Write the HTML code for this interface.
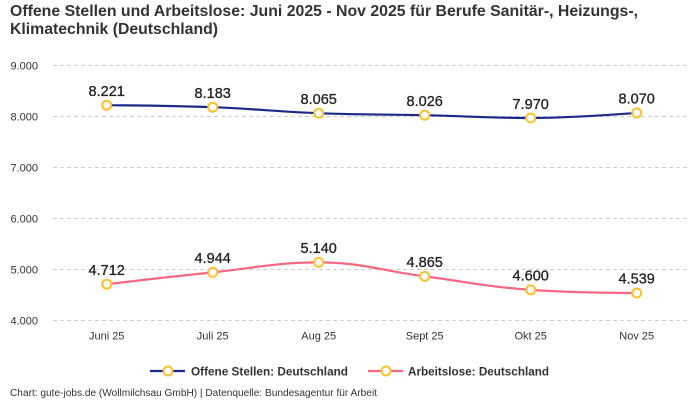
<!DOCTYPE html>
<html>
<head>
<meta charset="utf-8">
<style>
html,body{margin:0;padding:0;background:#fff;}
svg{display:block;font-family:"Liberation Sans",sans-serif;}
</style>
</head>
<body>
<svg width="700" height="400" viewBox="0 0 700 400" xmlns="http://www.w3.org/2000/svg">
  <rect width="700" height="400" fill="#fff"/>
  <!-- Title -->
  <text x="10" y="16" font-size="16" font-weight="bold" fill="#333" textLength="628" lengthAdjust="spacingAndGlyphs">Offene Stellen und Arbeitslose: Juni 2025 - Nov 2025 für Berufe Sanitär-, Heizungs-,</text>
  <text x="10" y="34" font-size="16" font-weight="bold" fill="#333" textLength="208" lengthAdjust="spacingAndGlyphs">Klimatechnik (Deutschland)</text>

  <!-- Grid -->
  <g stroke="#cccccc" stroke-width="1" stroke-dasharray="4,3">
    <line x1="53" y1="65.5" x2="689" y2="65.5"/>
    <line x1="53" y1="116.5" x2="689" y2="116.5"/>
    <line x1="53" y1="167.5" x2="689" y2="167.5"/>
    <line x1="53" y1="218.5" x2="689" y2="218.5"/>
    <line x1="53" y1="269.5" x2="689" y2="269.5"/>
    <line x1="53" y1="320.5" x2="689" y2="320.5"/>
  </g>

  <!-- Y labels -->
  <g font-size="11" fill="#333" text-anchor="end">
    <text x="38" y="69.5">9.000</text>
    <text x="38" y="120.5">8.000</text>
    <text x="38" y="171.5">7.000</text>
    <text x="38" y="222.5">6.000</text>
    <text x="38" y="273.5">5.000</text>
    <text x="38" y="324.5">4.000</text>
  </g>

  <!-- X labels -->
  <g font-size="11" fill="#333" text-anchor="middle">
    <text x="106.7" y="339.5">Juni 25</text>
    <text x="212.7" y="339.5">Juli 25</text>
    <text x="318.7" y="339.5">Aug 25</text>
    <text x="424.7" y="339.5">Sept 25</text>
    <text x="530.7" y="339.5">Okt 25</text>
    <text x="636.7" y="339.5">Nov 25</text>
  </g>

  <!-- Series lines -->
  <path d="M 106.7 105.2 C 106.7 105.2, 170.3 105.6, 212.7 107.2 C 255.1 108.8, 276.3 111.6, 318.7 113.2 C 361.1 114.8, 382.3 114.24, 424.7 115.2 C 467.1 116.16, 488.3 118, 530.7 118 C 573.1 118, 636.7 112.9, 636.7 112.9" fill="none" stroke="#1b2a8a" stroke-width="2.2"/>
  <path d="M 106.7 284.2 C 106.7 284.2, 170.3 276.76, 212.7 272.4 C 255.1 268.04, 276.3 262.4, 318.7 262.4 C 361.1 262.4, 382.3 270.9, 424.7 276.4 C 467.1 281.9, 488.3 286.8, 530.7 289.9 C 573.1 293.0, 636.7 293.0, 636.7 293.0" fill="none" stroke="#f7677f" stroke-width="2.2"/>

  <!-- Markers -->
  <g fill="#fff" stroke="#fbc02d" stroke-width="2">
    <circle cx="106.7" cy="105.2" r="4.5"/>
    <circle cx="212.7" cy="107.2" r="4.5"/>
    <circle cx="318.7" cy="113.2" r="4.5"/>
    <circle cx="424.7" cy="115.2" r="4.5"/>
    <circle cx="530.7" cy="118" r="4.5"/>
    <circle cx="636.7" cy="112.9" r="4.5"/>
    <circle cx="106.7" cy="284.2" r="4.5"/>
    <circle cx="212.7" cy="272.4" r="4.5"/>
    <circle cx="318.7" cy="262.4" r="4.5"/>
    <circle cx="424.7" cy="276.4" r="4.5"/>
    <circle cx="530.7" cy="289.9" r="4.5"/>
    <circle cx="636.7" cy="293.0" r="4.5"/>
  </g>

  <!-- Data labels -->
  <g font-size="14.5" fill="#222" text-anchor="middle" stroke="#222" stroke-width="0.3">
    <text x="106.7" y="96">8.221</text>
    <text x="212.7" y="98">8.183</text>
    <text x="318.7" y="104">8.065</text>
    <text x="424.7" y="106">8.026</text>
    <text x="530.7" y="109">7.970</text>
    <text x="636.7" y="103.5">8.070</text>
    <text x="106.7" y="275">4.712</text>
    <text x="212.7" y="263">4.944</text>
    <text x="318.7" y="252.8">5.140</text>
    <text x="424.7" y="267">4.865</text>
    <text x="530.7" y="280.5">4.600</text>
    <text x="636.7" y="283.5">4.539</text>
  </g>

  <!-- Legend -->
  <line x1="150" y1="371" x2="185" y2="371" stroke="#1b2a8a" stroke-width="2.2"/>
  <circle cx="168" cy="371" r="4.5" fill="#fff" stroke="#fbc02d" stroke-width="2"/>
  <text x="191" y="375.5" font-size="12" font-weight="bold" fill="#333" textLength="157" lengthAdjust="spacingAndGlyphs">Offene Stellen: Deutschland</text>

  <line x1="368" y1="371" x2="403" y2="371" stroke="#f7677f" stroke-width="2.2"/>
  <circle cx="386" cy="371" r="4.5" fill="#fff" stroke="#fbc02d" stroke-width="2"/>
  <text x="408" y="375.5" font-size="12" font-weight="bold" fill="#333" textLength="141" lengthAdjust="spacingAndGlyphs">Arbeitslose: Deutschland</text>

  <!-- Footer -->
  <text x="10" y="396" font-size="10" fill="#333" textLength="367" lengthAdjust="spacingAndGlyphs">Chart: gute-jobs.de (Wollmilchsau GmbH) | Datenquelle: Bundesagentur für Arbeit</text>
</svg>
</body>
</html>
